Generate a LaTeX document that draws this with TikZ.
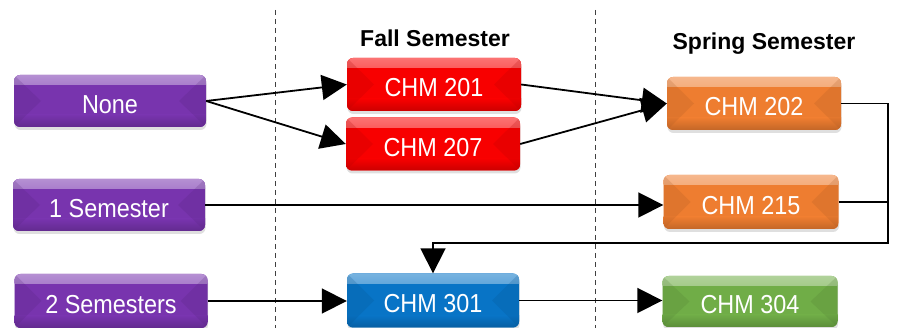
\documentclass[tikz,border=0pt]{standalone}
\usepackage{fontspec}
\newfontfamily\boxfont{Liberation Sans}[FakeStretch=0.9]
\newfontfamily\headfont{Liberation Sans}
\usetikzlibrary{arrows.meta,shadows}

\definecolor{cpurple}{HTML}{7834AE}
\definecolor{cred}{HTML}{F80000}
\definecolor{corange}{HTML}{EE7D30}
\definecolor{cblue}{HTML}{0874C6}
\definecolor{cgreen}{HTML}{70AD47}

\tikzset{
  course/.style={
    rectangle, rounded corners=6pt, minimum width=174pt, minimum height=53pt,
    inner sep=0pt, text=white, font=\boxfont\fontsize{26}{29}\selectfont,
    fill=#1, text depth=0pt, text height=25pt,
    drop shadow={shadow xshift=0.5pt, shadow yshift=-3pt, opacity=0.25},
    path picture={
      % glossy upper band, plain body, darker lower band
      \shade[sharp corners, top color=#1!55!white, bottom color=#1]
        (path picture bounding box.north west) rectangle ([yshift=-10pt]path picture bounding box.north east);
      \shade[sharp corners, top color=#1, bottom color=#1!82!black]
        ([yshift=12pt]path picture bounding box.south west) rectangle (path picture bounding box.south east);
      % side bevels
      \fill[sharp corners, #1!70!black, opacity=0.2]
        (path picture bounding box.north west) -- ([xshift=27pt]path picture bounding box.west)
        -- (path picture bounding box.south west) -- cycle;
      \fill[sharp corners, #1!70!black, opacity=0.2]
        (path picture bounding box.north east) -- ([xshift=-27pt]path picture bounding box.east)
        -- (path picture bounding box.south east) -- cycle;
    }
  },
  prior/.style={course=cpurple, minimum width=192pt, minimum height=52pt},
  head/.style={font=\headfont\bfseries\fontsize{23}{26}\selectfont, text=black},
  link/.style={line width=1.8pt, draw=black},
  arr/.style={link, -{Triangle[length=25pt,width=25pt]}},
  divider/.style={line width=0.9pt, draw=black!75, dash pattern=on 5pt off 4pt}
}

\begin{document}
\begin{tikzpicture}[x=1pt, y=-1pt]
  \useasboundingbox (0,0) rectangle (902,328);

  % semester dividers
  \draw[divider] (275,10) -- (275,328);
  \draw[divider] (595,10) -- (595,328);

  % column headings
  \node[head] (fall) at (435,38) {Fall Semester};
  \node[head] (spring) at (764,44) {Spring Semester};

  % prior preparation
  \node[prior] (none) at (110,101) {None};
  \node[prior] (sem1) at (109,205) {1 Semester};
  \node[prior, minimum width=193pt, minimum height=54pt] (sem2) at (111,301) {2 Semesters};

  % courses
  \node[course=cred] (c201) at (434,84.5) {CHM 201};
  \node[course=cred] (c207) at (433,144) {CHM 207};
  \node[course=corange] (c202) at (754,103.5) {CHM 202};
  \node[course=corange, minimum width=175pt, minimum height=54pt] (c215) at (751,202) {CHM 215};
  \node[course=cblue, minimum width=172pt, minimum height=54pt] (c301) at (433,300.5) {CHM 301};
  \node[course=cgreen, minimum width=175pt, minimum height=51pt] (c304) at (750,301.5) {CHM 304};

  \coordinate (loop) at (888,243);

  % prerequisite paths
  \draw[arr] (none.east) -- (c201.west);
  \draw[arr] (none.east) -- (c207.west);
  \draw[arr] (c201.east) -- (c202.west);
  \draw[arr] (c207.east) -- (c202.west);
  \draw[arr] (sem1.east) -- (sem1.east -| c215.west);
  \draw[arr] (sem2.east) -- (sem2.east -| c301.west);
  \draw[arr] (c301.east) -- (c301.east -| c304.west);
  \draw[link] (c215.east) -- (c215.east -| loop);
  \draw[arr] (c202.east) -| (loop) -| (c301.north);
\end{tikzpicture}
\end{document}
